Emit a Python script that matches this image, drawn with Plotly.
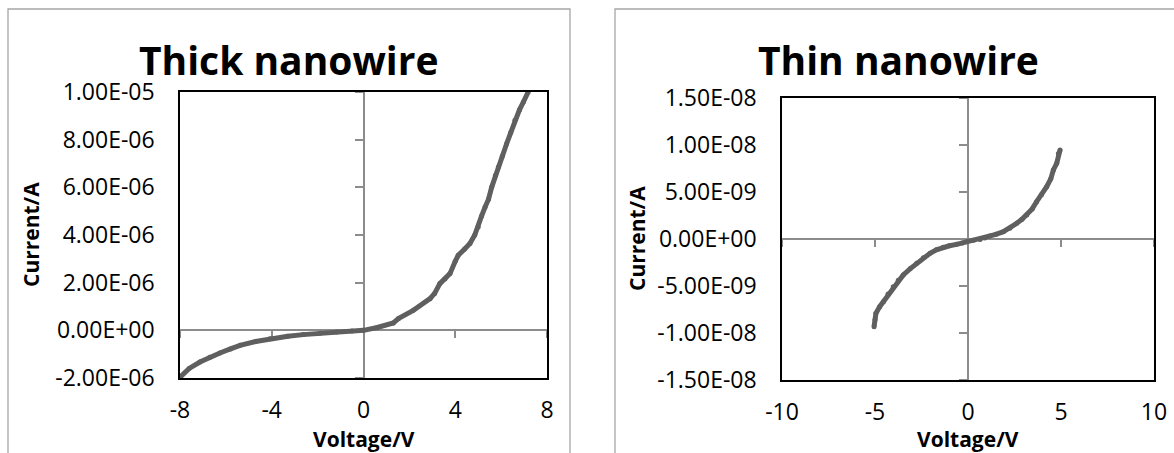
import plotly.graph_objects as go

W, H = 1174, 453

# ---------------- data ----------------
thick_v = [-8.0, -7.6, -7.13, -6.7, -6.26, -5.8, -5.38, -4.7, -4.08, -3.3, -2.63, -1.9,
           -1.17, -0.5, 0.0, 0.6, 1.30, 1.52, 2.17, 2.90, 3.10, 3.33, 3.55, 3.77, 4.0,
           4.13, 4.40, 4.64, 4.85, 5.00, 5.15, 5.30, 5.45, 5.59, 5.75, 5.88, 6.05, 6.24,
           6.42, 6.60, 6.80, 6.97, 7.18]
thick_i = [-1.97e-6, -1.60e-6, -1.33e-6, -1.13e-6, -0.95e-6, -0.78e-6, -0.63e-6, -0.47e-6,
           -0.35e-6, -0.25e-6, -0.18e-6, -0.12e-6, -0.07e-6, -0.03e-6, 0.0, 0.12e-6,
           0.31e-6, 0.49e-6, 0.84e-6, 1.33e-6, 1.55e-6, 1.96e-6, 2.15e-6, 2.38e-6, 2.9e-6,
           3.15e-6, 3.4e-6, 3.64e-6, 4.0e-6, 4.34e-6, 4.8e-6, 5.17e-6, 5.5e-6, 6.01e-6,
           6.5e-6, 6.85e-6, 7.3e-6, 7.83e-6, 8.3e-6, 8.81e-6, 9.25e-6, 9.58e-6, 1.0e-5]

thin_v = [-5.05, -5.00, -4.95, -4.75, -4.55, -4.3, -4.02, -3.75, -3.48, -3.1, -2.76, -2.4,
          -2.04, -1.7, -1.33, -1.0, -0.61, -0.3, -0.07, 0.3, 0.65, 0.9, 1.18, 1.5, 1.90,
          2.25, 2.62, 2.9, 3.16, 3.45, 3.69, 3.95, 4.23, 4.45, 4.59, 4.77, 4.86, 4.95]
thin_i = [-9.33e-9, -8.6e-9, -7.9e-9, -7.2e-9, -6.67e-9, -5.85e-9, -5.07e-9, -4.4e-9,
          -3.83e-9, -3.15e-9, -2.59e-9, -2.0e-9, -1.52e-9, -1.15e-9, -0.89e-9, -0.72e-9,
          -0.57e-9, -0.42e-9, -0.28e-9, -0.12e-9, -0.04e-9, 0.1e-9, 0.32e-9, 0.5e-9,
          0.78e-9, 1.15e-9, 1.67e-9, 2.1e-9, 2.55e-9, 3.2e-9, 3.97e-9, 4.7e-9, 5.56e-9,
          6.4e-9, 7.34e-9, 8.05e-9, 9.1e-9, 9.47e-9]

thick_xticks = [-8, -4, 0, 4, 8]
thick_xlabels = ["-8", "-4", "0", "4", "8"]
thick_yticks = [-2e-6, 0, 2e-6, 4e-6, 6e-6, 8e-6, 1e-5]
thick_ylabels = ["-2.00E-06", "0.00E+00", "2.00E-06", "4.00E-06", "6.00E-06", "8.00E-06", "1.00E-05"]

thin_xticks = [-10, -5, 0, 5, 10]
thin_xlabels = ["-10", "-5", "0", "5", "10"]
thin_yticks = [-1.5e-8, -1e-8, -5e-9, 0, 5e-9, 1e-8, 1.5e-8]
thin_ylabels = ["-1.50E-08", "-1.00E-08", "-5.00E-09", "0.00E+00", "5.00E-09", "1.00E-08", "1.50E-08"]

titles = ["Thick nanowire", "Thin nanowire"]
x_title = "Voltage/V"
y_title = "Current/A"

# ---------------- layout geometry (pixels) ----------------
def px(x):
    return x / W

def py(y):
    return 1 - y / H

FONT = "Open Sans"
TICKFONT = dict(family=FONT, size=23, color="#000000")
LINE_COLOR = "#5f5f5f"
AXIS_GRAY = "#8c8c8c"

panels = [
    dict(xdom=[px(180), px(547)], ydom=[py(378), py(92)], xr=[-8, 8], yr=[-2e-6, 1e-5],
         xt=thick_xticks, xl=thick_xlabels, yt=thick_yticks, yl=thick_ylabels,
         v=thick_v, i=thick_i, title=titles[0], tx=289, box=[8, 570]),
    dict(xdom=[px(782), px(1154)], ydom=[py(380), py(98)], xr=[-10, 10], yr=[-1.5e-8, 1.5e-8],
         xt=thin_xticks, xl=thin_xlabels, yt=thin_yticks, yl=thin_ylabels,
         v=thin_v, i=thin_i, title=titles[1], tx=898, box=[615, 1180]),
]

fig = go.Figure()
layout = dict(width=W, height=H, margin=dict(l=0, r=0, t=0, b=0, autoexpand=False),
              template="none",
              paper_bgcolor="white", plot_bgcolor="white", showlegend=False,
              annotations=[], shapes=[])

for k, p in enumerate(panels):
    main = k + 1          # main axes: x/y and x2/y2
    over = k + 3          # zero-crossing axes: x3/y3 and x4/y4
    mx = "x" if main == 1 else f"x{main}"
    my = "y" if main == 1 else f"y{main}"
    ox = f"x{over}"
    oy = f"y{over}"

    fig.add_trace(go.Scatter(x=[], y=[], xaxis=mx, yaxis=my, hoverinfo="skip"))
    fig.add_trace(go.Scatter(x=p["v"], y=p["i"], xaxis=ox, yaxis=oy, mode="lines+markers",
                             line=dict(color=LINE_COLOR, width=5),
                             marker=dict(color=LINE_COLOR, size=5)))

    layout[f"xaxis{'' if main == 1 else main}"] = dict(
        domain=p["xdom"], range=p["xr"], anchor=my, tickmode="array", tickvals=p["xt"],
        ticktext=p["xl"], showline=True, mirror=True, linecolor="#000000", linewidth=1.5,
        ticks="", showgrid=False, zeroline=False, tickfont=TICKFONT, ticklabelstandoff=11,
        automargin=False)
    layout[f"yaxis{'' if main == 1 else main}"] = dict(
        domain=p["ydom"], range=p["yr"], anchor=mx, tickmode="array", tickvals=p["yt"],
        ticktext=p["yl"], showline=True, mirror=True, linecolor="#000000", linewidth=1.5,
        ticks="", showgrid=False, zeroline=False, tickfont=TICKFONT, ticklabelstandoff=19,
        automargin=False)

    y0_frac = p["ydom"][0] + (0 - p["yr"][0]) / (p["yr"][1] - p["yr"][0]) * (p["ydom"][1] - p["ydom"][0])
    x0_frac = p["xdom"][0] + (0 - p["xr"][0]) / (p["xr"][1] - p["xr"][0]) * (p["xdom"][1] - p["xdom"][0])

    layout[f"xaxis{over}"] = dict(
        overlaying=mx, anchor="free", position=y0_frac, range=p["xr"], side="bottom",
        tickmode="array", tickvals=p["xt"], ticks="outside", ticklen=7, tickwidth=1.5,
        tickcolor=AXIS_GRAY, showline=True, linecolor=AXIS_GRAY, linewidth=1.5,
        showticklabels=False, showgrid=False, zeroline=False, layer="below traces",
        automargin=False)
    layout[f"yaxis{over}"] = dict(
        overlaying=my, anchor="free", position=x0_frac, range=p["yr"], side="left",
        tickmode="array", tickvals=p["yt"], ticks="outside", ticklen=8, tickwidth=1.5,
        tickcolor=AXIS_GRAY, showline=True, linecolor=AXIS_GRAY, linewidth=1.5,
        showticklabels=False, showgrid=False, zeroline=False, layer="below traces",
        automargin=False)

    xc = (p["xdom"][0] + p["xdom"][1]) / 2
    yc = (p["ydom"][0] + p["ydom"][1]) / 2
    layout["annotations"] += [
        dict(text=f"<b>{p['title']}</b>", x=px(p["tx"]), y=py(59), xref="paper", yref="paper",
             xanchor="center", yanchor="middle", showarrow=False,
             font=dict(family=FONT, size=39, color="#000000")),
        dict(text=f"<b>{x_title}</b>", x=xc, y=py(439), xref="paper", yref="paper",
             xanchor="center", yanchor="middle", showarrow=False, borderpad=0,
             font=dict(family=FONT, size=21, color="#000000")),
        dict(text=f"<b>{y_title}</b>", x=px(31 if k == 0 else 637), y=yc, xref="paper",
             yref="paper", xanchor="center", yanchor="middle", showarrow=False, textangle=-90,
             font=dict(family=FONT, size=21, color="#000000")),
    ]
    bx0, bx1 = p["box"]
    layout["shapes"].append(dict(type="rect", xref="paper", yref="paper",
                                 x0=px(bx0), x1=px(bx1), y0=py(470), y1=py(9),
                                 line=dict(color="#a6a6a6", width=1.3), layer="below"))

fig.update_layout(**layout)
fig.write_html("out.html")
